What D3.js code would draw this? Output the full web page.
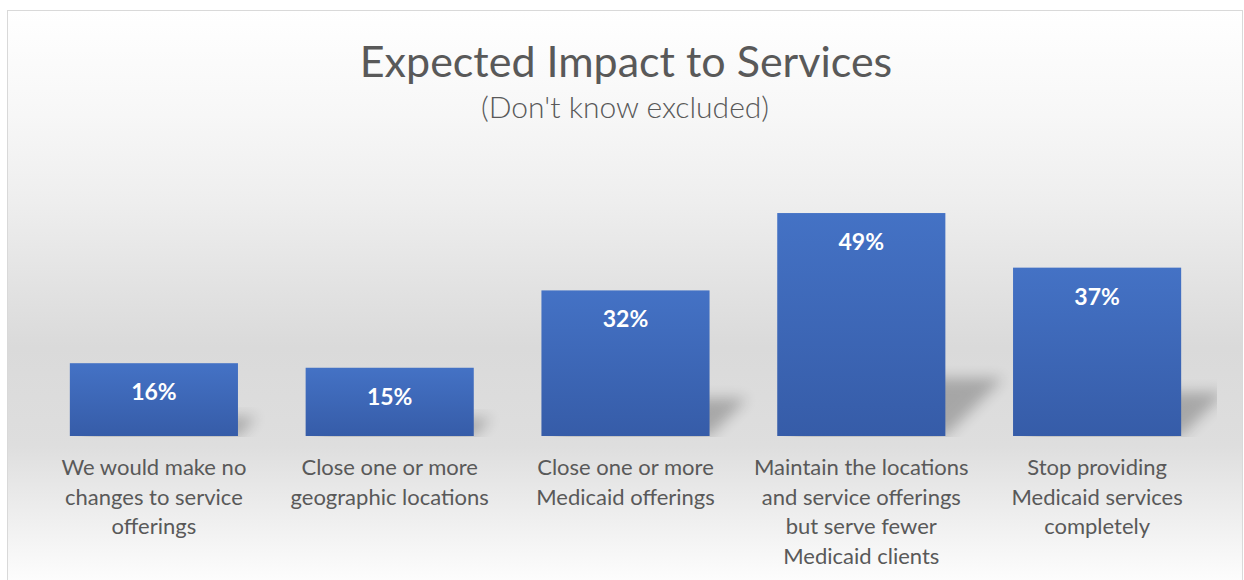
<!DOCTYPE html>
<html>
<head>
<meta charset="utf-8">
<script src="https://cdn.jsdelivr.net/npm/d3@7"></script>
<style>
  body { margin: 0; background: #fff; }
  svg { display: block; }
</style>
</head>
<body>
<div id="chart"></div>
<script>
// data
var categories = ["c1", "c2", "c3", "c4", "c5"];
var values = [16, 15, 32, 49, 37];
var labelLines = [
  ["We would make no", "changes to service", "offerings"],
  ["Close one or more", "geographic locations"],
  ["Close one or more", "Medicaid offerings"],
  ["Maintain the locations", "and service offerings", "but serve fewer", "Medicaid clients"],
  ["Stop providing", "Medicaid services", "completely"]
];
var title = "Expected Impact to Services";
var subtitle = "(Don't know excluded)";

var w = 1244;
var h = 580;
var font = "Lato, 'Open Sans', sans-serif";

var svg = d3.select("#chart")
            .append("svg")
            .attr("width", w)
            .attr("height", h);

var defs = svg.append("defs");

// chart area background, white -> grey -> white
var bg = defs.append("linearGradient")
    .attr("id", "bgGrad")
    .attr("x1", 0).attr("y1", 0).attr("x2", 0).attr("y2", 1);
[[0, "#ffffff"], [0.18, "#f7f7f7"], [0.33, "#eeeeee"], [0.58, "#dadada"],
 [0.75, "#dedede"], [0.93, "#f6f6f6"], [1, "#ffffff"]].forEach(function(s) {
    bg.append("stop").attr("offset", s[0]).attr("stop-color", s[1]);
});

var barGrad = defs.append("linearGradient")
    .attr("id", "barGrad")
    .attr("x1", 0).attr("y1", 0).attr("x2", 0).attr("y2", 1);
barGrad.append("stop").attr("offset", 0).attr("stop-color", "#4472c5");
barGrad.append("stop").attr("offset", 1).attr("stop-color", "#365ca8");

defs.append("filter")
    .attr("id", "blur")
    .attr("x", "-50%").attr("y", "-50%")
    .attr("width", "200%").attr("height", "200%")
    .append("feGaussianBlur")
    .attr("stdDeviation", 7);

defs.append("clipPath")
    .attr("id", "plotClip")
    .append("rect")
    .attr("x", 20).attr("y", 0)
    .attr("width", 1197).attr("height", 437);

svg.append("rect")
   .attr("x", 7.5)
   .attr("y", 10.5)
   .attr("width", 1235)
   .attr("height", 580)
   .attr("fill", "url(#bgGrad)")
   .attr("stroke", "#d9d9d9")
   .attr("stroke-width", 1);

// scales
var base = 436;
var x = d3.scaleBand()
    .domain(categories)
    .range([36, 1215])
    .paddingInner(0.287)
    .paddingOuter(0.1435);

var y = d3.scaleLinear()
    .domain([0, 60])
    .range([base, base - 273]);

// soft perspective shadows
var k = 0.26;
svg.append("g")
   .attr("clip-path", "url(#plotClip)")
   .selectAll("path")
   .data(values)
   .enter()
   .append("path")
   .attr("d", function(d, i) {
        var x0 = x(categories[i]) + 10;
        var x1 = x(categories[i]) + x.bandwidth();
        var bh = base - y(d);
        var dx = k * bh, dy = k * bh;
        return "M" + x0 + "," + base + "L" + x1 + "," + base +
               "L" + (x1 + dx) + "," + (base - dy) +
               "L" + (x0 + dx) + "," + (base - dy) + "Z";
    })
   .attr("fill", "#000")
   .attr("opacity", 0.24)
   .attr("filter", "url(#blur)");

svg.selectAll("rect.bar")
   .data(values)
   .enter()
   .append("rect")
   .attr("class", "bar")
   .attr("x", function(d, i) { return x(categories[i]); })
   .attr("y", function(d) { return y(d); })
   .attr("width", x.bandwidth())
   .attr("height", function(d) { return base - y(d); })
   .attr("fill", "url(#barGrad)");

svg.selectAll("text.val")
   .data(values)
   .enter()
   .append("text")
   .attr("class", "val")
   .text(function(d) { return d + "%"; })
   .attr("x", function(d, i) { return x(categories[i]) + x.bandwidth() / 2; })
   .attr("y", function(d) { return y(d) + 37; })
   .attr("font-family", font)
   .attr("font-weight", "bold")
   .attr("font-size", "23px")
   .attr("fill", "white")
   .attr("text-anchor", "middle");

// category axis
var axis = svg.append("g")
    .attr("transform", "translate(0," + base + ")")
    .call(d3.axisBottom(x).tickSize(0).tickFormat(""));
axis.select(".domain").remove();
axis.selectAll(".tick text").remove();
axis.selectAll(".tick")
    .append("text")
    .attr("font-family", font)
    .attr("font-size", "22px")
    .attr("fill", "#595959")
    .attr("text-anchor", "middle")
    .each(function(d, i) {
        var t = d3.select(this);
        labelLines[i].forEach(function(line, j) {
            t.append("tspan")
             .attr("x", 0)
             .attr("y", 39 + j * 29.5)
             .text(line);
        });
    });

// titles
svg.append("text")
   .text(title)
   .attr("x", 626)
   .attr("y", 77)
   .attr("font-family", font)
   .attr("font-size", "43px")
   .attr("fill", "#595959")
   .attr("text-anchor", "middle");

svg.append("text")
   .text(subtitle)
   .attr("x", 625)
   .attr("y", 118)
   .attr("font-family", font)
   .attr("font-weight", 300)
   .attr("font-size", "30px")
   .attr("fill", "#595959")
   .attr("text-anchor", "middle");
</script>
</body>
</html>
